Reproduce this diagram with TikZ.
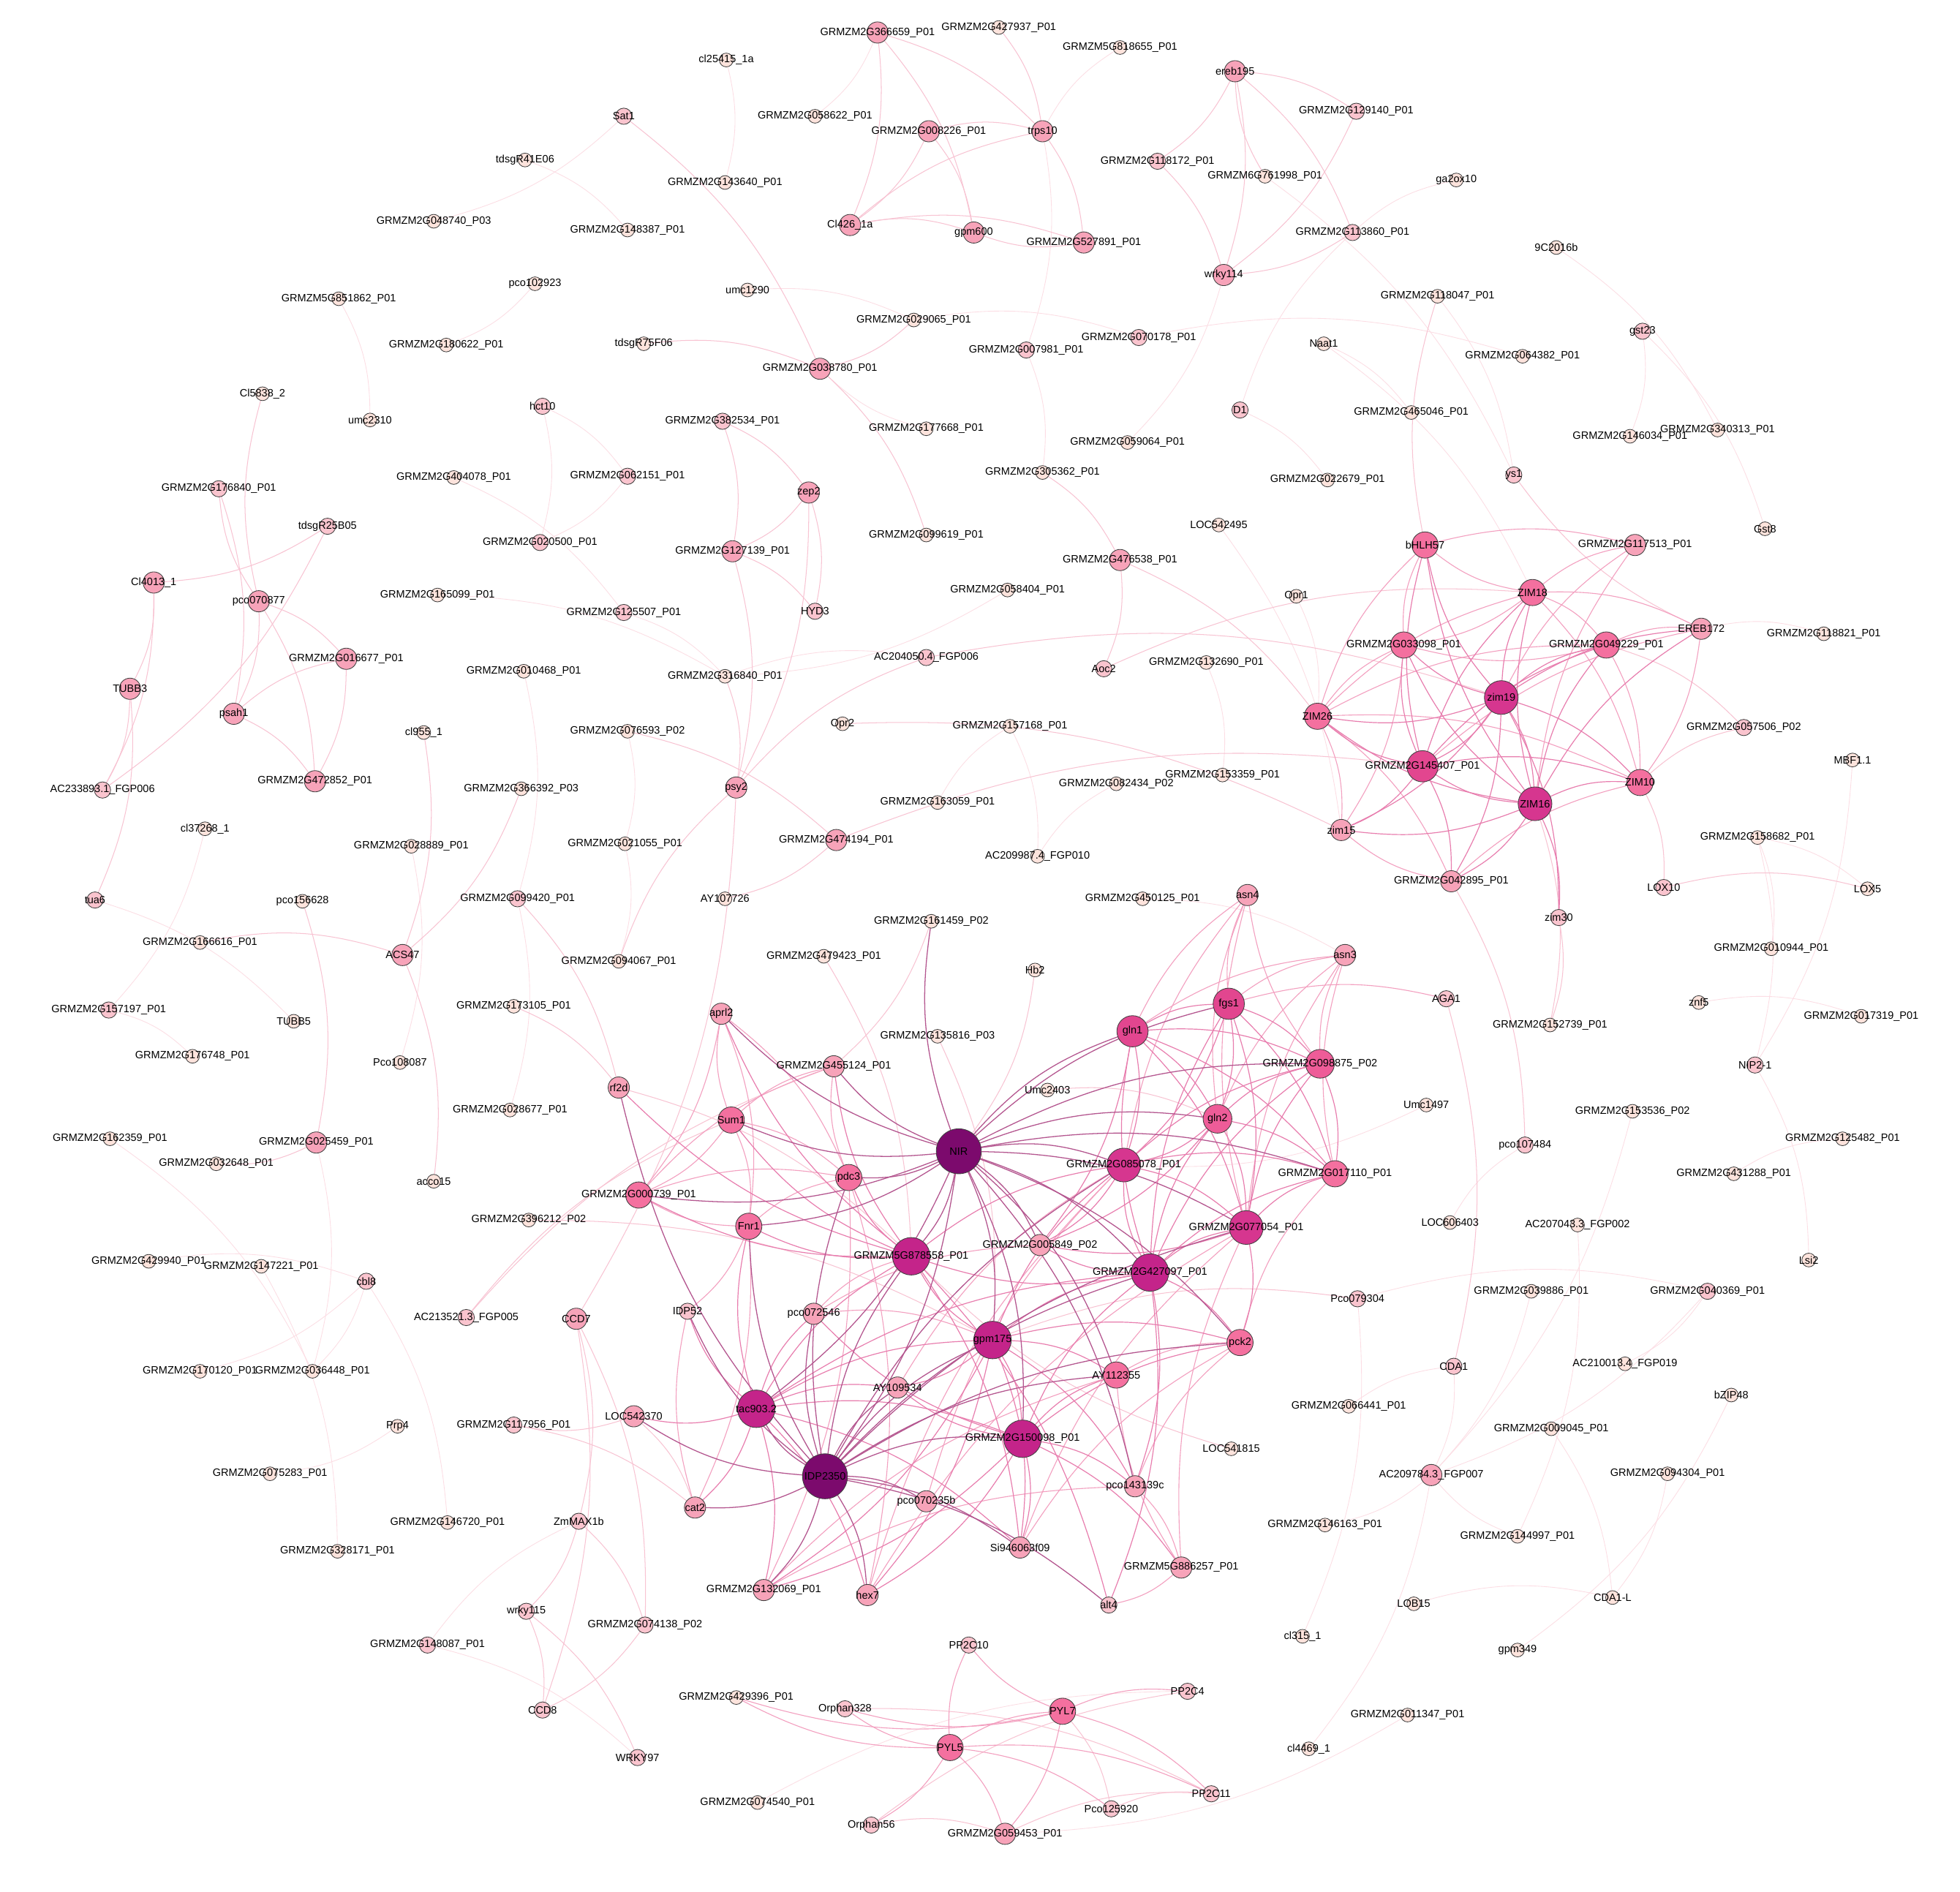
\documentclass[tikz,border=0pt]{standalone}
\usepackage{fontspec}
\setmainfont{Liberation Sans}
\pgfdeclarelayer{edgelayer}
\pgfdeclarelayer{labellayer}
\pgfsetlayers{edgelayer,main,labellayer}
\definecolor{c0}{HTML}{FDE3DC}
\definecolor{c1}{HTML}{FAC4CE}
\definecolor{c2}{HTML}{F7A3B9}
\definecolor{c3}{HTML}{F4709F}
\definecolor{c3b}{HTML}{EE5C98}
\definecolor{c4a}{HTML}{E2468F}
\definecolor{c4}{HTML}{D6368F}
\definecolor{c4b}{HTML}{C4248A}
\definecolor{c5}{HTML}{7C0A6D}
\definecolor{k0}{HTML}{FCDDE4}
\definecolor{k1}{HTML}{F8C3D2}
\definecolor{k2}{HTML}{F3A0C0}
\definecolor{k3}{HTML}{E87DAE}
\definecolor{k4}{HTML}{B4568F}
\newcommand\nd[5]{\node[#4] (#1) at (#2,#3) {};\begin{pgfonlayer}{labellayer}\node[lbl] at (#2,#3) {#5};\end{pgfonlayer}}
\begin{document}
\begin{tikzpicture}[x=1pt,y=-1pt,
  nbase/.style={circle,draw=black!75,line width=0.5pt,inner sep=0pt,outer sep=0pt},
  s0/.style={nbase,minimum size=11pt,fill=c0},
  s1/.style={nbase,minimum size=13pt,fill=c1},
  s2/.style={nbase,minimum size=17pt,fill=c2},
  s3/.style={nbase,minimum size=21pt,fill=c3},
  s3b/.style={nbase,minimum size=23pt,fill=c3b},
  s4a/.style={nbase,minimum size=25pt,fill=c4a},
  s4/.style={nbase,minimum size=27pt,fill=c4},
  s4b/.style={nbase,minimum size=30pt,fill=c4b},
  s5/.style={nbase,minimum size=36pt,fill=c5},
  lbl/.style={inner sep=0pt,font=\fontsize{8.5}{9}\selectfont,text=black},
  e0/.style={draw=k0,line width=0.5pt},
  e1/.style={draw=k1,line width=0.6pt},
  e2/.style={draw=k2,line width=0.65pt},
  e3/.style={draw=k3,line width=0.7pt},
  e4/.style={draw=k4,line width=0.75pt}]
\useasboundingbox (0,0) rectangle (1568,1513);
% ---------------- nodes ----------------
\nd{g366659}{702}{26}{s2}{GRMZM2G366659\_P01}
\nd{g427937}{799}{22}{s0}{GRMZM2G427937\_P01}
\nd{m818655}{896}{38}{s0}{GRMZM5G818655\_P01}
\nd{cl25415}{581}{48}{s0}{cl25415\_1a}
\nd{ereb195}{988}{57}{s2}{ereb195}
\nd{sat1}{499}{93}{s1}{Sat1}
\nd{g058622}{652}{93}{s0}{GRMZM2G058622\_P01}
\nd{g129140}{1085}{89}{s1}{GRMZM2G129140\_P01}
\nd{g008226}{743}{105}{s2}{GRMZM2G008226\_P01}
\nd{trps10}{834}{105}{s2}{trps10}
\nd{tdsg41}{420}{128}{s0}{tdsgR41E06}
\nd{g118172}{926}{129}{s1}{GRMZM2G118172\_P01}
\nd{s761998}{1012}{141}{s0}{GRMZM6G761998\_P01}
\nd{g143640}{580}{146}{s0}{GRMZM2G143640\_P01}
\nd{ga2ox10}{1165}{144}{s0}{ga2ox10}
\nd{cl426}{680}{180}{s2}{Cl426\_1a}
\nd{gpm600}{779}{186}{s2}{gpm600}
\nd{g048740}{347}{177}{s0}{GRMZM2G048740\_P03}
\nd{g148387}{502}{184}{s0}{GRMZM2G148387\_P01}
\nd{g527891}{867}{194}{s2}{GRMZM2G527891\_P01}
\nd{g113860}{1082}{186}{s1}{GRMZM2G113860\_P01}
\nd{wrky114}{979}{220}{s2}{wrky114}
\nd{c9c}{1245}{198}{s0}{9C2016b}
\nd{umc1290}{598}{232}{s0}{umc1290}
\nd{m851862}{271}{239}{s0}{GRMZM5G851862\_P01}
\nd{pco102923}{428}{227}{s0}{pco102923}
\nd{g118047}{1150}{237}{s0}{GRMZM2G118047\_P01}
\nd{g029065}{731}{256}{s0}{GRMZM2G029065\_P01}
\nd{g180622}{357}{276}{s0}{GRMZM2G180622\_P01}
\nd{tdsg75}{515}{275}{s0}{tdsgR75F06}
\nd{g007981}{821}{280}{s1}{GRMZM2G007981\_P01}
\nd{g070178}{911}{270}{s1}{GRMZM2G070178\_P01}
\nd{naat1}{1059}{275}{s0}{Naat1}
\nd{gst23}{1314}{265}{s1}{gst23}
\nd{g064382}{1218}{285}{s0}{GRMZM2G064382\_P01}
\nd{g038780}{656}{295}{s2}{GRMZM2G038780\_P01}
\nd{cl5838}{210}{315}{s0}{Cl5838\_2}
\nd{umc2310}{296}{336}{s0}{umc2310}
\nd{hct10}{434}{325}{s1}{hct10}
\nd{d1}{992}{328}{s1}{D1}
\nd{g465046}{1129}{330}{s0}{GRMZM2G465046\_P01}
\nd{g382534}{578}{337}{s1}{GRMZM2G382534\_P01}
\nd{g177668}{741}{343}{s0}{GRMZM2G177668\_P01}
\nd{g146034}{1304}{349}{s0}{GRMZM2G146034\_P01}
\nd{g340313}{1374}{344}{s0}{GRMZM2G340313\_P01}
\nd{g059064}{902}{354}{s0}{GRMZM2G059064\_P01}
\nd{g404078}{363}{382}{s0}{GRMZM2G404078\_P01}
\nd{g062151}{502}{381}{s1}{GRMZM2G062151\_P01}
\nd{g305362}{834}{378}{s0}{GRMZM2G305362\_P01}
\nd{g022679}{1062}{384}{s0}{GRMZM2G022679\_P01}
\nd{ys1}{1211}{380}{s1}{ys1}
\nd{g176840}{175}{391}{s1}{GRMZM2G176840\_P01}
\nd{zep2}{647}{394}{s2}{zep2}
\nd{tdsg25}{262}{421}{s1}{tdsgR25B05}
\nd{loc542495}{975}{420}{s0}{LOC542495}
\nd{g020500}{432}{434}{s1}{GRMZM2G020500\_P01}
\nd{g099619}{741}{428}{s0}{GRMZM2G099619\_P01}
\nd{bhlh57}{1140}{436}{s3}{bHLH57}
\nd{g117513}{1308}{436}{s2}{GRMZM2G117513\_P01}
\nd{gst8}{1412}{423}{s0}{Gst8}
\nd{g127139}{586}{441}{s2}{GRMZM2G127139\_P01}
\nd{g476538}{896}{448}{s2}{GRMZM2G476538\_P01}
\nd{cl4013}{123}{466}{s2}{Cl4013\_1}
\nd{pco070877}{207}{481}{s2}{pco070877}
\nd{g165099}{350}{476}{s0}{GRMZM2G165099\_P01}
\nd{g125507}{499}{490}{s1}{GRMZM2G125507\_P01}
\nd{hyd3}{652}{489}{s1}{HYD3}
\nd{g058404}{806}{472}{s0}{GRMZM2G058404\_P01}
\nd{opr1}{1037}{477}{s0}{Opr1}
\nd{zim18}{1226}{474}{s3}{ZIM18}
\nd{ereb172}{1361}{503}{s2}{EREB172}
\nd{g118821}{1459}{507}{s0}{GRMZM2G118821\_P01}
\nd{g033098}{1123}{516}{s3}{GRMZM2G033098\_P01}
\nd{g049229}{1285}{516}{s3}{GRMZM2G049229\_P01}
\nd{g016677}{277}{527}{s2}{GRMZM2G016677\_P01}
\nd{g010468}{419}{537}{s0}{GRMZM2G010468\_P01}
\nd{g316840}{580}{541}{s0}{GRMZM2G316840\_P01}
\nd{ac204050}{741}{526}{s1}{AC204050.4\_FGP006}
\nd{g132690}{965}{530}{s0}{GRMZM2G132690\_P01}
\nd{aoc2}{883}{535}{s1}{Aoc2}
\nd{tubb3}{104}{551}{s2}{TUBB3}
\nd{psah1}{187}{571}{s2}{psah1}
\nd{zim19}{1201}{558}{s4}{zim19}
\nd{zim26}{1054}{573}{s3}{ZIM26}
\nd{g076593}{502}{585}{s0}{GRMZM2G076593\_P02}
\nd{cl955}{339}{586}{s0}{cl955\_1}
\nd{opr2}{674}{579}{s0}{Opr2}
\nd{g157168}{808}{581}{s0}{GRMZM2G157168\_P01}
\nd{g057506}{1395}{582}{s1}{GRMZM2G057506\_P02}
\nd{mbf}{1482}{608}{s0}{MBF1.1}
\nd{g145407}{1138}{613}{s4a}{GRMZM2G145407\_P01}
\nd{zim16}{1228}{643}{s4}{ZIM16}
\nd{zim10}{1312}{626}{s3}{ZIM10}
\nd{g153359}{978}{620}{s0}{GRMZM2G153359\_P01}
\nd{ac233893}{82}{632}{s1}{AC233893.1\_FGP006}
\nd{g472852}{252}{625}{s2}{GRMZM2G472852\_P01}
\nd{g366392}{417}{631}{s0}{GRMZM2G366392\_P03}
\nd{psy2}{589}{630}{s2}{psy2}
\nd{g082434}{893}{627}{s0}{GRMZM2G082434\_P02}
\nd{g163059}{750}{642}{s0}{GRMZM2G163059\_P01}
\nd{cl37268}{164}{663}{s0}{cl37268\_1}
\nd{zim15}{1073}{664}{s2}{zim15}
\nd{g158682}{1406}{670}{s0}{GRMZM2G158682\_P01}
\nd{g028889}{329}{677}{s0}{GRMZM2G028889\_P01}
\nd{g021055}{500}{675}{s0}{GRMZM2G021055\_P01}
\nd{g474194}{669}{672}{s2}{GRMZM2G474194\_P01}
\nd{ac209987}{830}{685}{s0}{AC209987.4\_FGP010}
\nd{g042895}{1161}{705}{s2}{GRMZM2G042895\_P01}
\nd{lox10}{1331}{710}{s1}{LOX10}
\nd{lox5}{1494}{711}{s0}{LOX5}
\nd{tua6}{76}{720}{s1}{tua6}
\nd{pco156628}{242}{721}{s0}{pco156628}
\nd{ay107726}{580}{719}{s0}{AY107726}
\nd{g099420}{414}{719}{s1}{GRMZM2G099420\_P01}
\nd{g450125}{914}{719}{s0}{GRMZM2G450125\_P01}
\nd{asn4}{998}{716}{s2}{asn4}
\nd{zim30}{1247}{734}{s1}{zim30}
\nd{g161459}{745}{737}{s0}{GRMZM2G161459\_P02}
\nd{g166616}{160}{754}{s0}{GRMZM2G166616\_P01}
\nd{g479423}{659}{765}{s0}{GRMZM2G479423\_P01}
\nd{asn3}{1076}{764}{s2}{asn3}
\nd{acs47}{322}{764}{s2}{ACS47}
\nd{g094067}{495}{769}{s0}{GRMZM2G094067\_P01}
\nd{g010944}{1417}{759}{s0}{GRMZM2G010944\_P01}
\nd{hb2}{828}{776}{s0}{Hb2}
\nd{fgs1}{983}{803}{s4a}{fgs1}
\nd{aga1}{1157}{799}{s1}{AGA1}
\nd{znf5}{1359}{802}{s0}{znf5}
\nd{g157197}{87}{808}{s1}{GRMZM2G157197\_P01}
\nd{g173105}{411}{805}{s0}{GRMZM2G173105\_P01}
\nd{tubb5}{235}{817}{s0}{TUBB5}
\nd{aprl2}{577}{811}{s2}{aprl2}
\nd{g017319}{1489}{813}{s0}{GRMZM2G017319\_P01}
\nd{g152739}{1240}{820}{s0}{GRMZM2G152739\_P01}
\nd{g135816}{750}{829}{s0}{GRMZM2G135816\_P03}
\nd{gln1}{906}{825}{s4a}{gln1}
\nd{g176748}{154}{845}{s0}{GRMZM2G176748\_P01}
\nd{g455124}{667}{853}{s2}{GRMZM2G455124\_P01}
\nd{g098875}{1056}{851}{s3b}{GRMZM2G098875\_P02}
\nd{pco108087}{320}{850}{s0}{Pco108087}
\nd{nip}{1404}{852}{s1}{NIP2-1}
\nd{rf2d}{495}{870}{s2}{rf2d}
\nd{umc2403}{838}{872}{s0}{Umc2403}
\nd{umc1497}{1141}{884}{s0}{Umc1497}
\nd{g028677}{408}{888}{s0}{GRMZM2G028677\_P01}
\nd{sum1}{585}{896}{s3}{Sum1}
\nd{gln2}{974}{895}{s3b}{gln2}
\nd{pco107484}{1220}{916}{s1}{pco107484}
\nd{g153536}{1306}{889}{s0}{GRMZM2G153536\_P02}
\nd{nir}{767}{921}{s5}{NIR}
\nd{g162359}{88}{911}{s0}{GRMZM2G162359\_P01}
\nd{g025459}{253}{914}{s2}{GRMZM2G025459\_P01}
\nd{g032648}{173}{931}{s0}{GRMZM2G032648\_P01}
\nd{g125482}{1474}{911}{s0}{GRMZM2G125482\_P01}
\nd{g085078}{899}{932}{s4}{GRMZM2G085078\_P01}
\nd{g017110}{1068}{939}{s3}{GRMZM2G017110\_P01}
\nd{g431288}{1387}{939}{s0}{GRMZM2G431288\_P01}
\nd{pdc3}{679}{942}{s3}{pdc3}
\nd{g000739}{511}{956}{s3}{GRMZM2G000739\_P01}
\nd{acco15}{347}{945}{s0}{acco15}
\nd{g396212}{423}{976}{s0}{GRMZM2G396212\_P02}
\nd{fnr1}{599}{981}{s3}{Fnr1}
\nd{loc606403}{1160}{978}{s0}{LOC606403}
\nd{ac207043}{1262}{980}{s0}{AC207043.3\_FGP002}
\nd{g077054}{997}{982}{s4}{GRMZM2G077054\_P01}
\nd{m878558}{729}{1005}{s4b}{GRMZM5G878558\_P01}
\nd{g005849}{832}{996}{s2}{GRMZM2G005849\_P02}
\nd{g427097}{920}{1018}{s4b}{GRMZM2G427097\_P01}
\nd{lsi2}{1447}{1008}{s0}{Lsi2}
\nd{g429940}{119}{1009}{s0}{GRMZM2G429940\_P01}
\nd{g147221}{209}{1013}{s0}{GRMZM2G147221\_P01}
\nd{cbl8}{293}{1025}{s1}{cbl8}
\nd{idp52}{550}{1049}{s1}{IDP52}
\nd{pco072546}{651}{1051}{s2}{pco072546}
\nd{ccd7}{461}{1055}{s2}{CCD7}
\nd{ac213521}{373}{1054}{s1}{AC213521.3\_FGP005}
\nd{pco079304}{1086}{1039}{s1}{Pco079304}
\nd{g039886}{1225}{1033}{s0}{GRMZM2G039886\_P01}
\nd{g040369}{1366}{1033}{s1}{GRMZM2G040369\_P01}
\nd{gpm175}{794}{1072}{s4b}{gpm175}
\nd{pck2}{992}{1074}{s3}{pck2}
\nd{ay109534}{718}{1110}{s2}{AY109534}
\nd{ay112355}{893}{1100}{s3}{AY112355}
\nd{cda1}{1163}{1093}{s1}{CDA1}
\nd{ac210013}{1300}{1091}{s0}{AC210013.4\_FGP019}
\nd{bzip48}{1385}{1116}{s0}{bZIP48}
\nd{g170120}{160}{1097}{s0}{GRMZM2G170120\_P01}
\nd{g036448}{250}{1097}{s0}{GRMZM2G036448\_P01}
\nd{prp4}{318}{1141}{s0}{Prp4}
\nd{g117956}{411}{1140}{s1}{GRMZM2G117956\_P01}
\nd{loc542370}{507}{1133}{s2}{LOC542370}
\nd{tac}{605}{1127}{s4b}{tac903.2}
\nd{g066441}{1079}{1125}{s0}{GRMZM2G066441\_P01}
\nd{g009045}{1241}{1143}{s0}{GRMZM2G009045\_P01}
\nd{g150098}{818}{1151}{s4b}{GRMZM2G150098\_P01}
\nd{loc541815}{985}{1159}{s0}{LOC541815}
\nd{g075283}{216}{1179}{s0}{GRMZM2G075283\_P01}
\nd{idp2350}{660}{1181}{s5}{IDP2350}
\nd{pco070235b}{741}{1201}{s2}{pco070235b}
\nd{pco143139c}{908}{1189}{s2}{pco143139c}
\nd{ac209784}{1145}{1180}{s2}{AC209784.3\_FGP007}
\nd{g094304}{1334}{1179}{s0}{GRMZM2G094304\_P01}
\nd{cat2}{556}{1206}{s2}{cat2}
\nd{zmmax1b}{463}{1217}{s1}{ZmMAX1b}
\nd{g146720}{358}{1218}{s0}{GRMZM2G146720\_P01}
\nd{g146163}{1060}{1220}{s0}{GRMZM2G146163\_P01}
\nd{g144997}{1214}{1229}{s0}{GRMZM2G144997\_P01}
\nd{si946}{816}{1238}{s2}{Si946063f09}
\nd{g328171}{270}{1241}{s0}{GRMZM2G328171\_P01}
\nd{m886257}{945}{1254}{s2}{GRMZM5G886257\_P01}
\nd{g132069}{611}{1272}{s2}{GRMZM2G132069\_P01}
\nd{hex7}{694}{1276}{s2}{hex7}
\nd{alt4}{887}{1284}{s1}{alt4}
\nd{cdal}{1290}{1278}{s0}{CDA1-L}
\nd{lob15}{1131}{1283}{s0}{LOB15}
\nd{wrky115}{421}{1289}{s1}{wrky115}
\nd{g074138}{516}{1300}{s1}{GRMZM2G074138\_P02}
\nd{cl315}{1042}{1309}{s0}{cl315\_1}
\nd{gpm349}{1214}{1320}{s0}{gpm349}
\nd{g148087}{342}{1316}{s1}{GRMZM2G148087\_P01}
\nd{pp2c10}{775}{1316}{s1}{PP2C10}
\nd{pp2c4}{950}{1353}{s1}{PP2C4}
\nd{g429396}{589}{1358}{s0}{GRMZM2G429396\_P01}
\nd{orphan328}{676}{1367}{s1}{Orphan328}
\nd{pyl7}{850}{1369}{s3}{PYL7}
\nd{ccd8}{434}{1368}{s1}{CCD8}
\nd{g011347}{1126}{1372}{s0}{GRMZM2G011347\_P01}
\nd{pyl5}{760}{1398}{s3}{PYL5}
\nd{cl4469}{1047}{1399}{s0}{cl4469\_1}
\nd{wrky97}{510}{1406}{s1}{WRKY97}
\nd{pp2c11}{969}{1435}{s1}{PP2C11}
\nd{g074540}{606}{1442}{s0}{GRMZM2G074540\_P01}
\nd{pco125920}{889}{1447}{s1}{Pco125920}
\nd{orphan56}{697}{1460}{s1}{Orphan56}
\nd{g059453}{804}{1467}{s2}{GRMZM2G059453\_P01}
% ---------------- edges ----------------
\begin{pgfonlayer}{edgelayer}
\fill[white] (0,0) rectangle (1568,1513);
% faint
\foreach \a/\b in {g366659/g058622,trps10/m818655,trps10/g007981,sat1/g048740,tdsg41/g148387,cl25415/g143640,umc1290/g029065,pco102923/g180622,m851862/umc2310,hct10/g062151,hct10/g020500,g062151/g020500,g404078/g125507,g165099/g316840,g125507/g316840,g316840/ac204050,g076593/g021055,g021055/g094067,g010468/g099420,g099420/g028677,g113860/ga2ox10,d1/g022679,d1/g113860,wrky114/g059064,g070178/g064382,g007981/g305362,naat1/g465046,s761998/ys1,c9c/g340313,gst23/g146034,gst23/gst8,loc542495/zim15,opr1/zim26,g157168/ac209987,ac209987/g082434,g132690/g153359,g450125/asn3,g163059/g157168,g058404/g316840,tua6/tubb5,cl37268/g157197,g157197/g176748,g028889/pco108087,cbl8/g170120,cbl8/g146720,cbl8/g036448,g025459/g036448,g147221/g328171,g162359/g036448,prp4/g075283,g148087/wrky97,g148087/zmmax1b,g429940/cbl8,g158682/lox5,g158682/g010944,mbf/nip,g158682/nip,znf5/g017319,g431288/g125482,nip/lsi2,g153536/ac209784,ac207043/g144997,g039886/ac209784,g040369/ac210013,g040369/ac209784,g009045/cdal,g094304/cdal,lob15/cdal,bzip48/gpm349,g144997/ac209784,pco079304/cl315,pco079304/g040369,g066441/cda1,cda1/ac209784,ac209784/g146163,ac209784/cl4469,g011347/g059453,loc606403/pco107484,umc1497/g085078,g074540/pp2c4,ereb172/g118821,g029065/g070178,g177668/g038780,naat1/zim18,g118047/ys1}
  \draw[e0] (\a) to[bend left=14] (\b);
% light
\foreach \a/\b in {g366659/cl426,g366659/gpm600,g366659/trps10,g427937/trps10,g008226/cl426,g008226/gpm600,cl426/gpm600,cl426/trps10,cl426/g527891,trps10/g527891,g008226/trps10,g527891/gpm600,ereb195/g118172,ereb195/g129140,ereb195/wrky114,ereb195/g113860,g118172/wrky114,g129140/wrky114,g113860/wrky114,s761998/ereb195,sat1/g038780,g029065/g038780,tdsg75/g038780,g038780/g099619,g382534/g127139,g382534/zep2,zep2/g127139,zep2/hyd3,g127139/hyd3,g127139/psy2,zep2/psy2,psy2/ac204050,psy2/ccd7,g076593/g474194,g474194/ay107726,g474194/g145407,g476538/zim26,g476538/aoc2,aoc2/zim18,ac204050/zim19,opr2/zim15,g305362/g476538,pco070877/g176840,pco070877/cl5838,pco070877/psah1,pco070877/g016677,pco070877/g472852,g176840/psah1,tdsg25/cl4013,tdsg25/ac233893,cl4013/tubb3,tubb3/ac233893,tubb3/tua6,cl4013/ac233893,psah1/g016677,psah1/g472852,g016677/g472852,cl955/acs47,g166616/acs47,g366392/acs47,acs47/acco15,g025459/g032648,pco156628/g025459,ccd7/zmmax1b,ccd7/ccd8,ccd7/g074138,zmmax1b/g074138,zmmax1b/wrky115,wrky115/ccd8,g074138/ccd8,wrky115/wrky97,g117956/cat2,loc542370/g117956,loc542370/cat2,ac213521/g455124,ac213521/sum1,g099420/rf2d,g173105/rf2d,rf2d/m878558,g161459/g455124,g479423/m878558,g135816/gpm175,g396212/gpm175,hb2/nir,umc2403/gln2,orphan56/g059453,g059453/pp2c11,pco125920/pp2c11,orphan328/pp2c11,orphan56/pp2c4,pyl7/pco125920,zim10/g057506,zim10/lox10,g049229/g057506,bhlh57/g118047,ereb172/ys1,zim16/g152739,zim30/g152739,aga1/cda1,gpm175/pco079304,loc541815/m878558,lox10/lox5,g042895/pco107484,g094067/psy2,g316840/psy2}
  \draw[e1] (\a) to[bend left=14] (\b);
% medium
\foreach \a/\b in {fgs1/asn4,fgs1/asn3,gln1/asn4,gln1/asn3,gln2/asn4,gln2/asn3,g085078/asn4,g077054/asn3,g077054/asn4,g098875/asn3,g098875/asn4,g017110/asn3,fgs1/aga1,sum1/aprl2,sum1/fnr1,sum1/g000739,sum1/pdc3,sum1/g455124,aprl2/fnr1,aprl2/g000739,aprl2/pdc3,fnr1/g000739,fnr1/pdc3,fnr1/idp52,fnr1/cat2,g000739/pdc3,g000739/g455124,pdc3/g455124,pdc3/hex7,pdc3/g132069,pco072546/m878558,pco072546/gpm175,pco072546/g005849,ay109534/g085078,cat2/idp52,hex7/g077054,hex7/g085078,g132069/ay112355,g132069/pco143139c,si946/g077054,pco143139c/pck2,pco143139c/m886257,m886257/g077054,m886257/ay112355,m886257/alt4,ay112355/pck2,pck2/g017110,pco070235b/g085078,si946/pck2,zim26/zim18,zim26/g033098,zim26/zim15,zim26/g042895,zim26/g049229,zim26/zim10,zim26/bhlh57,zim18/g049229,zim18/g033098,zim18/bhlh57,zim18/g117513,zim18/ereb172,zim18/zim10,g049229/zim10,g049229/g033098,g049229/ereb172,g033098/bhlh57,g033098/zim15,bhlh57/g117513,ereb172/zim10,g042895/zim15,g042895/zim10,zim19/g117513,zim16/g117513,g145407/ereb172,pyl5/pyl7,pyl5/orphan328,pyl5/orphan56,pyl5/g059453,pyl5/pp2c11,pyl5/pco125920,pyl5/pp2c10,pyl7/pp2c10,pyl7/pp2c4,pyl7/pp2c11,pyl7/g059453,pyl7/orphan328,pyl7/g429396,pyl5/g429396}
  \draw[e2] (\a) to[bend left=14] (\b);
% strong
\foreach \a/\b in {tac/m878558,tac/gpm175,tac/g150098,tac/cat2,tac/g132069,tac/hex7,tac/loc542370,tac/pco072546,tac/ay109534,tac/fnr1,tac/g427097,tac/si946,tac/idp52,gpm175/g150098,gpm175/m878558,gpm175/g427097,gpm175/ay112355,gpm175/pck2,gpm175/ay109534,gpm175/si946,gpm175/g132069,gpm175/pco143139c,gpm175/g085078,gpm175/hex7,g150098/ay112355,g150098/pco143139c,g150098/m886257,g150098/si946,g150098/ay109534,g150098/g132069,g150098/hex7,g150098/g427097,g150098/pck2,g150098/pco072546,g427097/g077054,g427097/g085078,g427097/gln1,g427097/gln2,g427097/fgs1,g427097/pck2,g427097/alt4,g427097/pco143139c,g427097/m878558,g427097/g005849,g427097/g098875,g427097/g017110,m878558/pdc3,m878558/sum1,m878558/fnr1,m878558/aprl2,m878558/g455124,m878558/g000739,m878558/rf2d,m878558/g085078,m878558/si946,m878558/alt4,gln1/fgs1,gln1/gln2,gln1/g085078,gln1/g077054,gln1/g098875,gln1/g017110,gln1/g005849,fgs1/gln2,fgs1/g085078,fgs1/g077054,fgs1/g098875,fgs1/g017110,gln2/g085078,gln2/g077054,gln2/g098875,gln2/g017110,gln2/g005849,g085078/g077054,g085078/g098875,g085078/g017110,g085078/g005849,g077054/g098875,g077054/g017110,g077054/g005849,g077054/pck2,g098875/g017110,zim19/zim16,zim19/g145407,zim19/zim26,zim19/zim18,zim19/zim10,zim19/g049229,zim19/g033098,zim19/bhlh57,zim19/zim15,zim19/g042895,zim19/ereb172,zim19/zim30,zim16/g145407,zim16/zim26,zim16/zim18,zim16/zim10,zim16/g049229,zim16/g033098,zim16/bhlh57,zim16/zim15,zim16/g042895,zim16/ereb172,zim16/zim30,g145407/zim26,g145407/zim18,g145407/zim10,g145407/g049229,g145407/g033098,g145407/bhlh57,g145407/zim15,g145407/g042895}
  \draw[e3] (\a) to[bend left=14] (\b);
% hub edges
\foreach \a/\b in {nir/gln1,nir/fgs1,nir/gln2,nir/g085078,nir/g077054,nir/g427097,nir/m878558,nir/gpm175,nir/idp2350,nir/tac,nir/g000739,nir/sum1,nir/pdc3,nir/fnr1,nir/aprl2,nir/g455124,nir/g161459,nir/g150098,nir/g098875,nir/g017110,nir/pck2,nir/ay112355,nir/pco143139c,nir/g005849,idp2350/tac,idp2350/m878558,idp2350/gpm175,idp2350/g150098,idp2350/cat2,idp2350/hex7,idp2350/g132069,idp2350/pco070235b,idp2350/si946,idp2350/loc542370,idp2350/rf2d,idp2350/g427097,idp2350/ay109534,idp2350/pdc3,idp2350/fnr1,idp2350/idp52,idp2350/pco072546,idp2350/g085078,idp2350/g077054,idp2350/ay112355,idp2350/pck2,idp2350/alt4}
  \draw[e4] (\a) to[bend left=14] (\b);
\end{pgfonlayer}
\end{tikzpicture}
\end{document}
